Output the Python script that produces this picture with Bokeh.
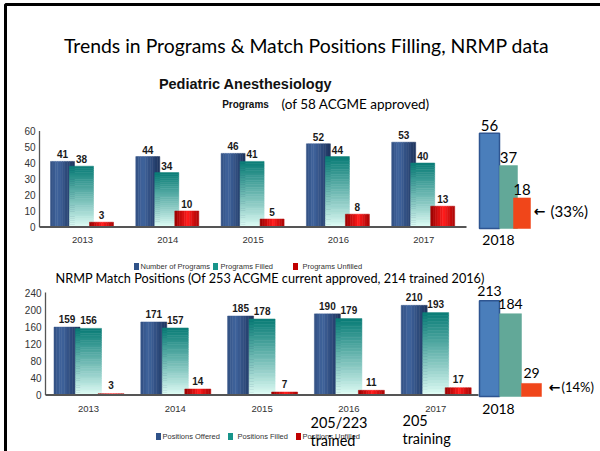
from bokeh.plotting import figure
from bokeh.models import Range1d
from bokeh.core.properties import value
from bokeh.embed import file_html
from bokeh.resources import INLINE

# ---------------- data ----------------
years = ["2013", "2014", "2015", "2016", "2017"]

prog_series = ["Number of Programs", "Programs Filled", "Programs Unfilled"]
prog_offered = [41, 44, 46, 52, 53]
prog_filled = [38, 34, 41, 44, 40]
prog_unfilled = [3, 10, 5, 8, 13]
prog_ticks = [0, 10, 20, 30, 40, 50, 60]

pos_series = ["Positions Offered", "Positions Filled", "Positions Unfilled"]
pos_offered = [159, 171, 185, 190, 210]
pos_filled = [156, 157, 178, 179, 193]
pos_unfilled = [3, 14, 7, 11, 17]
pos_ticks = [0, 40, 80, 120, 160, 200, 240]

year_2018 = "2018"
prog_2018 = [56, 37, 18]
prog_2018_pct = "(33%)"
pos_2018 = [213, 184, 29]
pos_2018_pct = "(14%)"

slide_title = "Trends in Programs & Match Positions Filling, NRMP data"
chart_title = "Pediatric Anesthesiology"
prog_caption = "Programs"
prog_note = "(of 58 ACGME approved)"
pos_title = "NRMP Match Positions (Of 253 ACGME current approved, 214 trained 2016)"
note_2016 = ["205/223", "trained"]
note_2017 = ["205", "training"]

# ---------------- layout / style ----------------
W, H = 600, 451
X0, X1 = 0, 600          # pixel span shown by the frame
Y0, Y1 = 0, 451

SANS = value("Lato")
ARIAL = value("Liberation Sans")
ARROWF = value("DejaVu Sans")

p = figure(width=W, height=H, x_range=Range1d(X0, X1), y_range=Range1d(Y1, Y0),
           x_axis_type=None, y_axis_type=None, output_backend="svg",
           toolbar_location=None, title=None, min_border=0)
p.outline_line_color = None
p.background_fill_color = "white"
p.border_fill_color = "white"


def yrange(base, ppu):
    return Range1d(start=(base - Y1) / ppu, end=(base - Y0) / ppu)


def xrange_idx(c0, step):
    return Range1d(start=(X0 - c0) / step, end=(X1 - c0) / step)


def hexc(rgb):
    return "#%02x%02x%02x" % tuple(max(0, min(255, int(round(v)))) for v in rgb)


def mix(a, b, t):
    return hexc([a[i] + (b[i] - a[i]) * t for i in range(3)])


def blue_col(t):
    s = max(0.0, 1 - abs(t - 0.3) / 0.7)
    return mix((30, 52, 92), (64, 100, 158), s)


def red_col(t):
    s = max(0.0, 1 - abs(t - 0.55) / 0.55)
    return mix((150, 0, 0), (255, 28, 28), s)


def teal_col(t):
    return mix((228, 255, 248), (8, 124, 118), t ** 0.9)


def strips(xr, yr, centers, tops, width, colfn, n=10):
    L, R, T, C = [], [], [], []
    for c, v in zip(centers, tops):
        for k in range(n):
            left = c - width / 2 + width * k / n
            L.append(left)
            R.append(left + width / n)
            T.append(v)
            C.append(colfn((k + 0.5) / n))
    p.quad(left=L, right=R, bottom=0, top=T, fill_color=C, line_color=C,
           line_width=0.5, x_range_name=xr, y_range_name=yr)


def bands(xr, yr, centers, tops, width, colfn, n=28):
    L, R, B, T, C = [], [], [], [], []
    for c, v in zip(centers, tops):
        for k in range(n):
            L.append(c - width / 2)
            R.append(c + width / 2)
            B.append(v * k / n)
            T.append(v * (k + 1) / n)
            C.append(colfn((k + 0.5) / n))
    p.quad(left=L, right=R, bottom=B, top=T, fill_color=C, line_color=C,
           line_width=0.5, x_range_name=xr, y_range_name=yr)


def text(x, y, s, size, font=SANS, style="normal", color="#000000", align="center",
         baseline="middle", xr="default", yr="default"):
    p.text(x=x, y=y, text=s, text_font=font, text_font_size=size, text_font_style=style,
           text_color=color, text_align=align, text_baseline=baseline,
           x_range_name=xr, y_range_name=yr)


# ---------------- slide frame ----------------
p.line(x=[5, 5, 600], y=[451, 4, 4], line_color="black", line_width=3)

# ---------------- header texts ----------------
text([306], [45], [slide_title], "19.4px")
text([245], [83], [chart_title], "14.5px", font=ARIAL, style="bold", color="#111111")
text([245], [104], [prog_caption], "10px", font=ARIAL, style="bold", color="#111111")
text([281], [103], [prog_note], "13.5px", align="left")

# ---------------- the two 2013-2017 panels ----------------
panels = [
    dict(key="t", series=[prog_offered, prog_filled, prog_unfilled], ticks=prog_ticks,
         labels=prog_series, base=226.5, ppu=1.6, c0=82, step=85.3, offs=[-20, -1, 19], w=24,
         axis_x=39, axis_end=466, tick_x=35, year_y=239, leg_y=266, lab_off=7,
         leg_sq=[136, 215, 295], leg_tx=[140, 220, 302]),
    dict(key="b", series=[pos_offered, pos_filled, pos_unfilled], ticks=pos_ticks,
         labels=pos_series, base=394.5, ppu=0.427, c0=88, step=86.8, offs=[-21.5, 0, 22.5], w=26,
         axis_x=45, axis_end=478, tick_x=41, year_y=408, leg_y=436, lab_off=8.3,
         leg_sq=[158, 230, 298], leg_tx=[162, 237, 302]),
]
legend_cols = ["#2F5289", "#17948A", "#C00000"]

for pn in panels:
    xr, yr, lr = "x" + pn["key"], "y" + pn["key"], "l" + pn["key"]
    p.extra_x_ranges[xr] = xrange_idx(pn["c0"], pn["step"])
    p.extra_y_ranges[yr] = yrange(pn["base"], pn["ppu"])
    p.extra_y_ranges[lr] = yrange(pn["base"] - pn["lab_off"], pn["ppu"])
    idx = list(range(len(years)))
    w = pn["w"] / pn["step"]
    cents = [[i + o / pn["step"] for i in idx] for o in pn["offs"]]

    # axis line
    p.segment(x0=[pn["axis_x"]], y0=[0], x1=[pn["axis_x"]], y1=[max(pn["ticks"])],
              y_range_name=yr, line_color="#555555", line_width=1.3)
    # tick labels
    text([pn["tick_x"]] * len(pn["ticks"]), pn["ticks"], [str(t) for t in pn["ticks"]],
         "10px", font=ARIAL, color="#333333", align="right", yr=yr)

    # bars
    strips(xr, yr, cents[0], pn["series"][0], w, blue_col, n=10)
    bands(xr, yr, cents[1], pn["series"][1], w, teal_col, n=28)
    strips(xr, yr, cents[2], pn["series"][2], w, red_col, n=10)

    # baseline
    p.segment(x0=[pn["axis_x"]], y0=[0], x1=[pn["axis_end"]], y1=[0],
              y_range_name=yr, line_color="#555555", line_width=2)

    # value labels
    for s_vals, c in zip(pn["series"], cents):
        text(c, s_vals, [str(v) for v in s_vals], "10px", font=ARIAL, style="bold",
             color="#1a1a1a", xr=xr, yr=lr)

    # year labels
    text(idx, [pn["year_y"]] * len(years), years, "9.5px", font=ARIAL, color="#333333", xr=xr)

    # legend
    p.rect(x=pn["leg_sq"], y=[pn["leg_y"]] * 3, width=5, height=7, width_units="screen",
           height_units="screen", fill_color=legend_cols, line_color=None)
    text(pn["leg_tx"], [pn["leg_y"]] * 3, pn["labels"], "7.5px", font=ARIAL, color="#333333",
         align="left")

# ---------------- NRMP positions caption ----------------
text([55], [277], [pos_title], "12.7px", align="left")

# ---------------- 2018 panels ----------------
cols18 = ["#4A7EBB", "#62A898", "#F0461A"]
lines18 = ["#2E5591", "#62A898", "#F0461A"]
p18 = [
    dict(key="t18", vals=prog_2018, base=228, ppu=1.7, cx=[489, 508, 521.5], w=[20, 18, 17],
         year_y=239, pct=prog_2018_pct, arrow=(539, 210), pct_x=550, fs="15px", pfs="15px",
         lab_off=8),
    dict(key="b18", vals=pos_2018, base=396, ppu=0.45, cx=[489, 510, 531], w=[20, 22, 20],
         year_y=408, pct=pos_2018_pct, arrow=(554, 386), pct_x=561, fs="14px", pfs="13px",
         lab_off=10),
]
for pn in p18:
    yr, lr = "y" + pn["key"], "l" + pn["key"]
    p.extra_y_ranges[yr] = yrange(pn["base"], pn["ppu"])
    p.extra_y_ranges[lr] = yrange(pn["base"] - pn["lab_off"], pn["ppu"])
    for i in range(3):
        p.quad(left=[pn["cx"][i] - pn["w"][i] / 2], right=[pn["cx"][i] + pn["w"][i] / 2],
               bottom=[0], top=[pn["vals"][i]], fill_color=cols18[i], line_color=lines18[i],
               line_width=1.5 if i == 0 else 0.5, y_range_name=yr)
    text(pn["cx"], pn["vals"], [str(v) for v in pn["vals"]], pn["fs"], yr=lr)
    text([498], [pn["year_y"]], [year_2018], "14px")
    text([pn["arrow"][0]], [pn["arrow"][1]], ["\u2190"], "14px", font=ARROWF, style="bold")
    text([pn["pct_x"]], [pn["arrow"][1]], [pn["pct"]], pn["pfs"], align="left")

# ---------------- notes under 2016 / 2017 ----------------
text([310, 310], [422, 440], note_2016, "14.5px", align="left")
text([402, 402], [420, 438], note_2017, "14.5px", align="left")

open("out.html", "w").write(file_html(p, INLINE))
